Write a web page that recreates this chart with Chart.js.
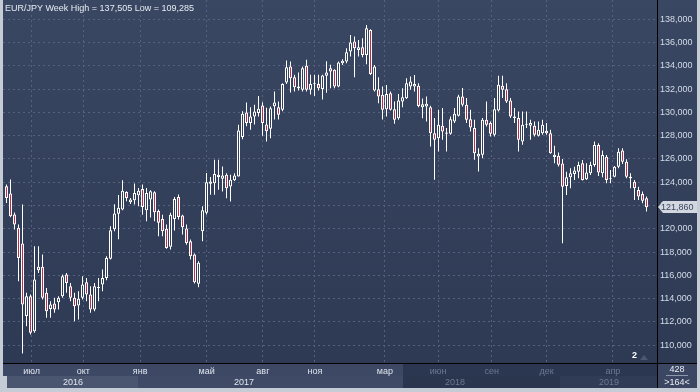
<!DOCTYPE html>
<html>
<head>
<meta charset="utf-8">
<script src="https://cdn.jsdelivr.net/npm/chart.js@4.4.0/dist/chart.umd.min.js"></script>
<style>
  html, body { margin: 0; padding: 0; background: #c5ccd6; }
  #wrap { width: 700px; height: 392px; position: relative; }
</style>
</head>
<body>
<div id="wrap"><canvas id="chart" width="700" height="392"></canvas></div>
<script>
// --- data: EUR/JPY weekly candles ---
const title = 'EUR/JPY Week High = 137,505 Low = 109,285';

const opens = [
  123.66, 123.03, 121.22, 120.08, 118.73, 112.50, 114.21, 111.20, 116.44, 116.73,
  114.50, 113.12, 113.58, 113.69, 114.21, 116.07, 115.07, 114.07, 113.41, 114.07,
  115.41, 114.35, 113.06, 114.92, 115.21, 115.78, 117.42, 119.97, 121.30, 121.65,
  123.17, 122.28, 122.45, 122.88, 123.43, 121.60, 122.51, 123.14, 121.52, 120.85,
  120.00, 118.45, 120.85, 122.74, 121.14, 120.02, 118.93, 117.79, 115.27, 119.79,
  121.37, 123.87, 123.92, 124.64, 124.30, 124.64, 123.64, 124.18, 124.50, 127.88,
  129.99, 129.10, 129.65, 129.96, 130.59, 128.96, 128.60, 130.54, 130.45, 130.22,
  132.57, 133.94, 133.03, 132.22, 131.94, 134.00, 131.94, 132.51, 132.45, 132.02,
  133.14, 133.80, 133.66, 132.22, 134.22, 134.37, 135.23, 136.09, 135.37, 135.60,
  134.94, 137.09, 131.88, 131.99, 131.51, 130.27, 131.65, 130.27, 129.50, 130.93,
  131.22, 132.22, 132.22, 132.28, 130.45, 130.50, 130.45, 128.22, 127.79, 128.85,
  128.16, 128.16, 129.22, 129.71, 131.37, 130.65, 129.42, 128.65, 126.22, 126.36,
  129.37, 129.08, 128.08, 130.17, 132.28, 132.00, 131.03, 129.51, 129.51, 127.51,
  129.02, 128.85, 128.85, 127.99, 128.22, 128.42, 128.22, 126.16, 126.27, 125.60,
  123.68, 124.43, 124.71, 124.91, 125.63, 124.25, 124.77, 125.48, 127.20, 124.77,
  126.20, 124.34, 124.48, 125.34, 126.72, 125.77, 124.48, 124.05, 123.34, 122.99,
  122.62
];
const highs = [
  123.80, 124.23, 121.40, 120.36, 122.08, 114.50, 114.35, 118.50, 118.50, 117.79,
  114.92, 113.78, 114.07, 114.21, 116.07, 116.21, 115.35, 114.50, 114.64, 115.93,
  115.78, 115.07, 115.35, 115.78, 116.50, 117.64, 120.22, 122.10, 122.90, 124.17,
  123.23, 122.65, 123.89, 123.51, 123.80, 123.51, 123.31, 123.23, 121.66, 121.20,
  120.36, 121.37, 122.74, 122.94, 121.20, 120.36, 119.08, 117.87, 117.22, 121.94,
  124.80, 124.44, 125.93, 125.93, 125.35, 124.78, 124.64, 124.78, 128.94, 130.10,
  130.85, 130.45, 130.65, 131.42, 130.88, 130.39, 130.50, 131.79, 130.94, 132.50,
  134.46, 134.37, 133.23, 133.43, 133.94, 134.52, 133.23, 133.23, 133.23, 133.23,
  134.40, 134.09, 133.71, 134.37, 134.57, 135.51, 136.66, 136.52, 136.23, 136.37,
  137.505, 137.15, 134.08, 133.02, 132.22, 132.36, 131.79, 130.93, 131.59, 132.08,
  132.94, 133.08, 133.22, 132.51, 131.20, 131.37, 130.57, 129.51, 130.22, 130.37,
  128.65, 129.65, 130.37, 131.51, 132.09, 131.23, 130.22, 129.37, 126.93, 129.51,
  130.94, 129.22, 131.23, 133.15, 133.15, 132.51, 131.23, 130.37, 130.08, 130.08,
  130.08, 129.37, 129.22, 129.22, 129.37, 129.08, 128.51, 127.13, 126.56, 126.00,
  124.91, 125.20, 125.34, 125.77, 125.91, 125.63, 125.77, 127.49, 127.35, 126.72,
  126.34, 125.06, 125.40, 126.92, 126.92, 125.97, 124.77, 124.20, 123.62, 123.20,
  122.77
];
const lows = [
  122.22, 121.00, 119.93, 115.50, 109.285, 111.63, 110.92, 111.06, 116.21, 113.92,
  112.35, 112.35, 112.78, 113.06, 114.07, 114.50, 113.78, 112.06, 112.20, 113.92,
  113.78, 112.78, 112.92, 113.78, 114.64, 115.58, 117.36, 119.80, 119.10, 121.60,
  122.37, 122.14, 122.08, 121.94, 121.20, 120.65, 120.97, 120.65, 119.37, 119.37,
  118.28, 118.22, 119.85, 120.80, 119.51, 118.62, 117.36, 115.30, 114.98, 118.94,
  121.22, 122.92, 122.92, 123.35, 123.20, 122.63, 122.35, 124.10, 124.50, 127.70,
  128.82, 128.50, 128.96, 129.65, 128.00, 127.50, 127.79, 129.40, 129.40, 130.10,
  132.45, 131.71, 131.80, 131.88, 131.80, 131.80, 131.54, 131.40, 131.88, 131.11,
  131.68, 132.08, 132.08, 132.17, 134.08, 134.23, 134.80, 133.02, 134.80, 134.74,
  134.14, 133.22, 131.79, 130.79, 129.39, 129.65, 130.16, 129.02, 129.36, 130.45,
  131.16, 131.94, 131.79, 130.45, 129.50, 129.22, 127.08, 124.21, 126.65, 127.65,
  126.65, 128.08, 129.08, 129.65, 130.51, 129.08, 128.36, 125.93, 124.93, 126.07,
  128.79, 127.93, 127.93, 130.08, 131.23, 130.80, 129.51, 129.08, 126.65, 127.22,
  128.65, 127.65, 127.93, 127.93, 128.08, 128.08, 126.45, 125.64, 125.36, 118.76,
  122.91, 123.48, 124.20, 124.34, 124.14, 124.20, 124.63, 125.34, 124.54, 124.43,
  123.91, 123.91, 124.43, 125.20, 125.57, 124.34, 123.48, 122.48, 122.48, 122.20,
  121.48
];
const closes = [
  122.65, 121.08, 120.36, 117.50, 113.49, 114.21, 111.06, 115.64, 116.73, 114.07,
  112.92, 113.49, 113.06, 114.07, 115.93, 115.35, 114.07, 113.35, 113.98, 115.21,
  114.35, 113.06, 115.07, 115.01, 115.78, 117.50, 119.88, 121.32, 121.80, 123.28,
  122.65, 122.51, 123.08, 123.28, 121.88, 123.08, 123.23, 121.43, 120.51, 119.80,
  118.36, 121.20, 122.57, 121.02, 120.14, 118.79, 117.64, 115.41, 117.08, 121.60,
  124.00, 124.07, 124.70, 124.44, 124.58, 123.49, 124.21, 124.58, 128.45, 129.88,
  129.10, 129.65, 130.08, 130.31, 129.10, 128.39, 130.36, 130.85, 129.80, 132.45,
  133.89, 132.94, 132.17, 132.08, 133.80, 131.94, 132.45, 132.43, 132.08, 133.17,
  133.43, 133.51, 132.22, 134.29, 134.43, 135.17, 136.00, 135.51, 135.60, 134.94,
  137.23, 133.31, 133.94, 131.36, 130.22, 131.59, 130.22, 129.36, 131.02, 131.31,
  132.51, 132.65, 132.45, 130.56, 130.71, 130.74, 128.22, 127.65, 128.94, 128.36,
  128.28, 129.42, 129.88, 131.37, 130.65, 129.37, 128.71, 126.50, 126.44, 129.37,
  128.94, 128.16, 130.28, 132.37, 131.94, 130.94, 129.65, 129.65, 127.65, 128.94,
  128.94, 129.08, 128.08, 128.51, 128.94, 128.22, 126.50, 126.36, 125.50, 123.62,
  124.43, 124.77, 125.00, 125.48, 124.20, 124.83, 125.48, 127.20, 124.83, 126.34,
  124.20, 124.25, 125.34, 126.63, 125.77, 124.48, 124.34, 123.48, 122.77, 122.42,
  121.86
];

const yTicks = [110, 112, 114, 116, 118, 120, 122, 124, 126, 128, 130, 132, 134, 136, 138];
const monthLabels = ['июл', 'окт', 'янв', 'май', 'авг', 'ноя', 'мар', 'июн', 'сен', 'дек', 'апр'];
const monthAt = [6.3, 19.2, 33.4, 50.05, 64.1, 77.1, 94.6, 107.9, 121.3, 135.05, 151.6]; // week index
const yearLabels = ['2016', '2017', '2018', '2019'];
const yearAt = [16.6, 59.4, 112.1, 150.6]; // week index of label centre
const lastPrice = closes[closes.length - 1];

// --- build candle datasets ---
const bodies = opens.map((o, i) => ({ x: i, y: [Math.min(o, closes[i]), Math.max(o, closes[i])] }));
const wicks = highs.map((h, i) => ({ x: i, y: [lows[i], h] }));
const bodyFill = opens.map((o, i) => closes[i] >= o ? '#33405b' : '#b8304e');

const fmt = v => v.toFixed(3).replace('.', ',');
const FONT = 'Liberation Sans, Arial, sans-serif';
const noPad = s => { s.paddingTop = 0; s.paddingBottom = 0; s.paddingLeft = 0; s.paddingRight = 0; };

const decor = {
  id: 'decor',
  beforeDraw(chart) {
    const { ctx, chartArea: a } = chart;
    ctx.save();
    ctx.fillStyle = '#c5ccd6';
    ctx.fillRect(0, 0, 700, 392);
    const g = ctx.createLinearGradient(0, 0, 0, a.bottom);
    g.addColorStop(0, '#3a4762');
    g.addColorStop(1, '#2e3a54');
    ctx.fillStyle = g;
    ctx.fillRect(3, 0, 694, a.bottom);
    // axis strip under the plot
    ctx.fillStyle = '#3c4864';
    ctx.fillRect(3, a.bottom, a.right - 3, 13);
    ctx.fillStyle = '#2b3650';
    ctx.fillRect(403, a.bottom, a.right - 403, 13);
    // year bands
    ctx.fillStyle = '#4a5670';
    ctx.fillRect(7, a.bottom + 13, 131, 12);
    ctx.fillStyle = '#3e4a66';
    ctx.fillRect(138, a.bottom + 13, 265, 12);
    ctx.fillStyle = '#2a354e';
    ctx.fillRect(403, a.bottom + 13, 157, 12);
    ctx.fillStyle = '#303b56';
    ctx.fillRect(560, a.bottom + 13, a.right - 560, 12);
    ctx.fillStyle = '#3a4662';
    ctx.fillRect(a.right, a.bottom, 697 - a.right, 25);
    ctx.restore();
  },
  afterDraw(chart) {
    const { ctx, chartArea: a, scales: { x, y } } = chart;
    ctx.save();
    // separators
    ctx.fillStyle = '#000';
    ctx.fillRect(a.right, 0, 1, 388);
    ctx.fillRect(3, a.bottom, 694, 1);
    // title
    ctx.font = '9px ' + FONT;
    ctx.fillStyle = '#e6ebf2';
    ctx.textBaseline = 'alphabetic';
    ctx.textAlign = 'left';
    ctx.fillText(title, 5, 11);
    // years
    ctx.textAlign = 'center';
    yearLabels.forEach((t, i) => {
      ctx.fillStyle = i < 2 ? '#dfe5ee' : '#6d7891';
      ctx.fillText(t, x.getPixelForValue(yearAt[i]), a.bottom + 22);
    });
    // last price tag
    const py = Math.round(y.getPixelForValue(lastPrice));
    ctx.fillStyle = '#d3d8e0';
    ctx.beginPath();
    ctx.moveTo(a.right + 1, py);
    ctx.lineTo(a.right + 6, py - 6);
    ctx.lineTo(697, py - 6);
    ctx.lineTo(697, py + 6);
    ctx.lineTo(a.right + 6, py + 6);
    ctx.closePath();
    ctx.fill();
    ctx.fillStyle = '#3a4560';
    ctx.textAlign = 'left';
    ctx.textBaseline = 'middle';
    ctx.fillText(fmt(lastPrice), a.right + 4, py + 1);
    // small marker in the plot corner
    ctx.fillStyle = '#ffffff';
    ctx.font = 'bold 9px ' + FONT;
    ctx.fillText('2', 632, a.bottom - 7);
    ctx.fillStyle = '#4c5872';
    ctx.beginPath();
    ctx.moveTo(640, a.bottom - 3);
    ctx.lineTo(644, a.bottom - 8);
    ctx.lineTo(648, a.bottom - 3);
    ctx.fill();
    // bottom right box
    ctx.font = '9px ' + FONT;
    ctx.fillStyle = '#e8edf3';
    ctx.textAlign = 'center';
    ctx.fillText('428', 677, a.bottom + 7);
    ctx.fillText('>164<', 677, a.bottom + 20);
    ctx.fillStyle = '#8d97aa';
    ctx.fillRect(666, a.bottom + 12, 22, 1);
    ctx.restore();
  }
};

new Chart(document.getElementById('chart'), {
  type: 'bar',
  data: {
    datasets: [
      {
        label: 'body',
        data: bodies,
        backgroundColor: bodyFill,
        borderColor: '#ffffff',
        borderWidth: 1,
        borderSkipped: false,
        barThickness: 3,
        inflateAmount: 0,
        grouped: false
      },
      {
        label: 'wick',
        data: wicks,
        backgroundColor: '#ffffff',
        borderWidth: 0,
        barThickness: 1,
        inflateAmount: 0,
        grouped: false
      }
    ]
  },
  options: {
    responsive: false,
    animation: false,
    layout: { padding: { left: 3, right: 3, top: 0, bottom: 4 } },
    plugins: { legend: { display: false }, tooltip: { enabled: false } },
    scales: {
      x: {
        type: 'linear',
        offset: false,
        min: -0.875,
        max: 162.625,
        afterBuildTicks: s => { s.ticks = monthAt.map(v => ({ value: v })); },
        afterFit: s => { s.height = 25; noPad(s); },
        grid: { color: '#56627d', drawTicks: false, offset: false },
        border: { display: false, dash: [2, 3] },
        ticks: {
          autoSkip: false,
          maxRotation: 0,
          padding: 3,
          font: { family: FONT, size: 9 },
          color: c => c.index < 7 ? '#dfe5ee' : '#6d7891',
          callback: (v, i) => monthLabels[i]
        }
      },
      y: {
        type: 'linear',
        position: 'right',
        min: 108.47,
        max: 139.658,
        afterBuildTicks: s => { s.ticks = yTicks.map(v => ({ value: v })); },
        afterFit: s => { s.width = 40; noPad(s); },
        grid: { color: '#56627d', drawTicks: false },
        border: { display: false, dash: [2, 3] },
        ticks: {
          padding: 3,
          font: { family: FONT, size: 9 },
          color: '#d3dce8',
          callback: v => fmt(v)
        }
      }
    }
  },
  plugins: [decor]
});
</script>
</body>
</html>
